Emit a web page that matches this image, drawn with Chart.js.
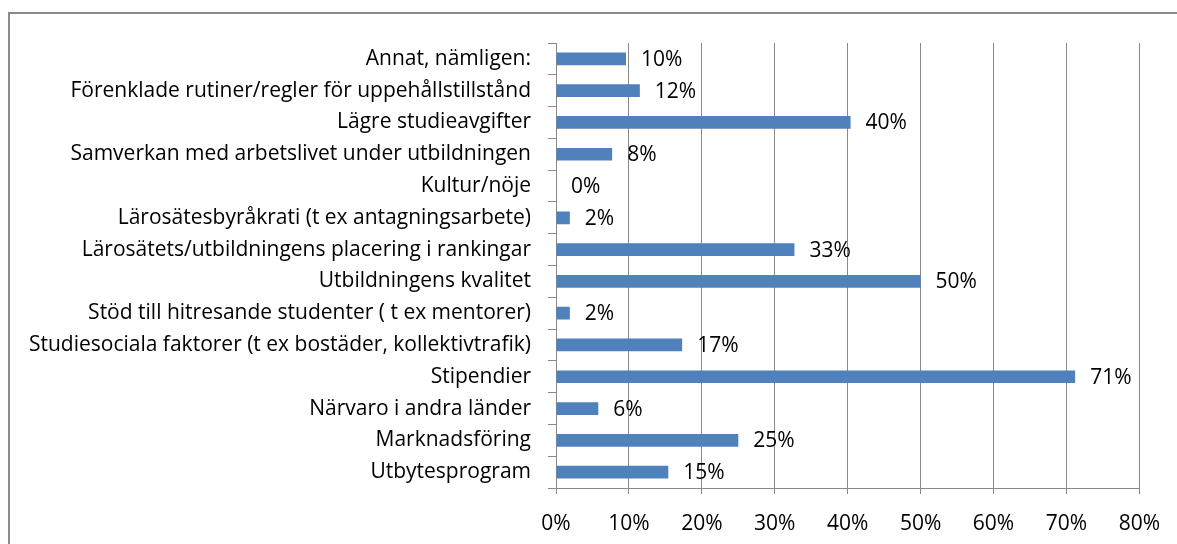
<!DOCTYPE html>
<html>
<head>
<meta charset="utf-8">
<script src="https://cdn.jsdelivr.net/npm/chart.js@4.4.1/dist/chart.umd.min.js"></script>
<style>
  html, body { margin: 0; padding: 0; background: #fff; overflow: hidden; }
  #wrap { position: relative; width: 1177px; height: 544px; }
  #frame { position: absolute; left: 8px; top: 12px; width: 1200px; height: 600px; border: 2px solid #8a8a8a; }
  canvas { position: absolute; left: 0; top: 0; }
</style>
</head>
<body>
<div id="wrap">
  <div id="frame"></div>
  <canvas id="chart" width="1177" height="544"></canvas>
</div>
<script>
  // categories, top to bottom as shown
  var CATEGORIES = [
    'Annat, nämligen:',
    'Förenklade rutiner/regler för uppehållstillstånd',
    'Lägre studieavgifter',
    'Samverkan med arbetslivet under utbildningen',
    'Kultur/nöje',
    'Lärosätesbyråkrati (t ex antagningsarbete)',
    'Lärosätets/utbildningens placering i rankingar',
    'Utbildningens kvalitet',
    'Stöd till hitresande studenter ( t ex mentorer)',
    'Studiesociala faktorer (t ex bostäder, kollektivtrafik)',
    'Stipendier',
    'Närvaro i andra länder',
    'Marknadsföring',
    'Utbytesprogram'
  ];
  // share of respondents, percent
  var VALUES = [9.6, 11.5, 40.4, 7.7, 0, 1.9, 32.7, 50.0, 1.9, 17.3, 71.2, 5.8, 25.0, 15.4];
  var VALUE_LABELS = ['10%', '12%', '40%', '8%', '0%', '2%', '33%', '50%', '2%', '17%', '71%', '6%', '25%', '15%'];
  var X_TICKS = ['0%', '10%', '20%', '30%', '40%', '50%', '60%', '70%', '80%'];

  var FONT = '"Open Sans"';
  var AXIS_GRAY = '#898989';

  var barLabels = {
    id: 'barLabels',
    afterDatasetsDraw: function (chart) {
      var ctx = chart.ctx;
      var meta = chart.getDatasetMeta(0);
      ctx.save();
      ctx.font = '21px ' + FONT;
      ctx.fillStyle = '#000';
      ctx.textAlign = 'left';
      ctx.textBaseline = 'middle';
      meta.data.forEach(function (bar, i) {
        ctx.fillText(VALUE_LABELS[i], bar.x + 15, bar.y + 1);
      });
      ctx.restore();
    }
  };

  new Chart(document.getElementById('chart'), {
    type: 'bar',
    data: {
      labels: CATEGORIES,
      datasets: [{
        data: VALUES,
        backgroundColor: '#4f81bd',
        borderWidth: 0,
        categoryPercentage: 1,
        barPercentage: 0.4
      }]
    },
    plugins: [barLabels],
    options: {
      indexAxis: 'y',
      responsive: false,
      animation: false,
      layout: { padding: { top: 43, right: 37, left: 0, bottom: 0 } },
      plugins: {
        legend: { display: false },
        tooltip: { enabled: false }
      },
      scales: {
        x: {
          min: 0,
          max: 80,
          afterFit: function (scale) { scale.height = 56; },
          grid: {
            color: AXIS_GRAY,
            lineWidth: 1,
            drawTicks: true,
            tickLength: 6,
            tickColor: AXIS_GRAY
          },
          border: { display: true, color: AXIS_GRAY, width: 1 },
          ticks: {
            stepSize: 10,
            maxRotation: 0,
            autoSkip: false,
            padding: 17,
            color: '#000',
            font: { family: FONT, size: 21 },
            callback: function (v, i) { return X_TICKS[i]; }
          }
        },
        y: {
          afterFit: function (scale) { scale.width = 556; },
          grid: {
            drawOnChartArea: false,
            drawTicks: true,
            tickLength: 8,
            color: AXIS_GRAY,
            tickColor: AXIS_GRAY
          },
          border: { display: true, color: AXIS_GRAY, width: 1 },
          ticks: {
            padding: 17,
            autoSkip: false,
            color: '#000',
            font: { family: FONT, size: 21 }
          }
        }
      }
    }
  });
</script>
</body>
</html>
